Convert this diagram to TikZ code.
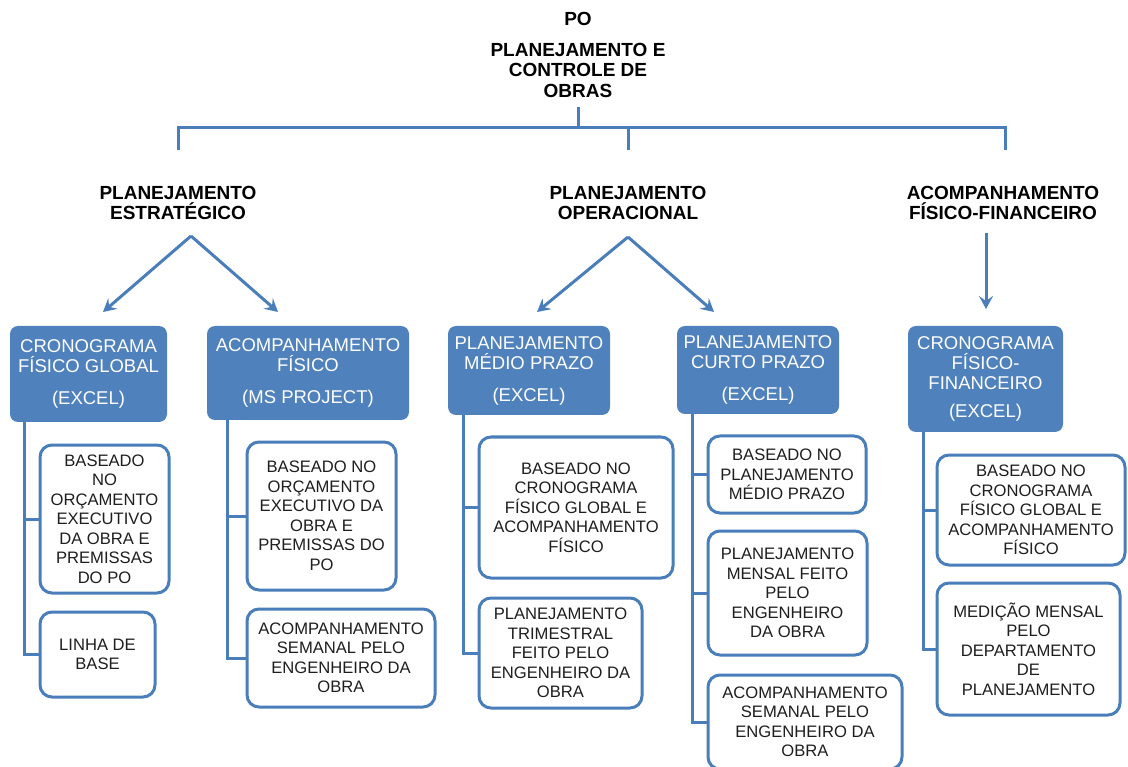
\documentclass[tikz,border=0pt]{standalone}
\usepackage{fontspec}
\setmainfont{Liberation Sans}
\usetikzlibrary{arrows.meta}
\definecolor{lineblue}{HTML}{4A7EBB}
\definecolor{boxblue}{HTML}{4F81BD}
\definecolor{txtdark}{HTML}{1E1E1E}
\tikzset{
  conn/.style={draw=lineblue, line width=3pt},
  arr/.style={conn, -{Stealth[length=13pt,width=14pt,inset=5pt]}},
  bluebox/.style={rectangle, rounded corners=8pt, fill=boxblue, draw=none, text=white,
    font=\fontsize{18.5}{20}\selectfont, align=center, inner sep=0pt},
  whitebox/.style={rectangle, rounded corners=12pt, fill=white, draw=lineblue, line width=3pt,
    text=txtdark, font=\fontsize{16.6}{19.5}\selectfont, align=center, inner sep=0pt},
  head/.style={font=\bfseries\fontsize{19}{20.5}\selectfont, align=center, inner sep=0pt}
}
\begin{document}
\begin{tikzpicture}[x=1pt,y=1pt]
\useasboundingbox (0,0) rectangle (1128,-767);
\fill[white] (0,0) rectangle (1128,-767);

% headings
\node[head] (po) at (578,-19) {PO};
\node[head] (title) at (578,-70) {PLANEJAMENTO E\\CONTROLE DE\\OBRAS};
\node[head] (est) at (178,-203) {PLANEJAMENTO\\ESTRATÉGICO};
\node[head] (ope) at (628,-203) {PLANEJAMENTO\\OPERACIONAL};
\node[head] (aff) at (1003,-203) {ACOMPANHAMENTO\\FÍSICO-FINANCEIRO};

% bracket
\coordinate (tb) at (578,-107);
\coordinate (tj) at (578,-128);
\coordinate (b1) at (178,-150);
\coordinate (b2) at (628,-150);
\coordinate (b3) at (1005,-150);
\draw[conn] (tb) -- (tj);
\draw[conn] (b1) -- (b1 |- tj) -- (b3 |- tj) -- (b3);
\draw[conn] (b2) -- (b2 |- tj);

% blue boxes
\node[bluebox, minimum width=157pt, minimum height=96pt] (cfg) at (88.5,-374)
  {CRONOGRAMA\\FÍSICO GLOBAL\\[12pt](EXCEL)};
\node[bluebox, minimum width=202pt, minimum height=94pt] (af) at (308,-373)
  {ACOMPANHAMENTO\\FÍSICO\\[12pt](MS PROJECT)};
\node[bluebox, minimum width=162pt, minimum height=89pt] (pmp) at (529,-370.5)
  {PLANEJAMENTO\\MÉDIO PRAZO\\[12pt](EXCEL)};
\node[bluebox, minimum width=162pt, minimum height=88pt] (pcp) at (758,-370)
  {PLANEJAMENTO\\CURTO PRAZO\\[12pt](EXCEL)};
\node[bluebox, minimum width=155pt, minimum height=106pt] (cff) at (985.5,-379)
  {CRONOGRAMA\\FÍSICO-\\FINANCEIRO\\[8pt](EXCEL)};

% arrows
\coordinate (ap1) at (191,-236);
\coordinate (t11) at (103,-312);
\coordinate (t12) at (278,-312);
\coordinate (ap2) at (628,-237);
\coordinate (t21) at (537,-312);
\coordinate (t22) at (714,-312);
\coordinate (ap3) at (986,-233);
\coordinate (t31) at (986,-309);
\draw[arr] (ap1) -- (t11);
\draw[arr] (ap1) -- (t12);
\draw[arr] (ap2) -- (t21);
\draw[arr] (ap2) -- (t22);
\draw[arr] (ap3) -- (t31);

% white boxes column 1
\node[whitebox, minimum width=129pt, minimum height=148pt] (w11) at (104.5,-519)
  {BASEADO\\NO\\ORÇAMENTO\\EXECUTIVO\\DA OBRA E\\PREMISSAS\\DO PO};
\node[whitebox, minimum width=115pt, minimum height=85pt] (w12) at (97.5,-654.5)
  {LINHA DE\\BASE};
% column 2
\node[whitebox, minimum width=149pt, minimum height=148pt] (w21) at (321.5,-516)
  {BASEADO NO\\ORÇAMENTO\\EXECUTIVO DA\\OBRA E\\PREMISSAS DO\\PO};
\node[whitebox, minimum width=188pt, minimum height=98pt] (w22) at (341,-658)
  {ACOMPANHAMENTO\\SEMANAL PELO\\ENGENHEIRO DA\\OBRA};
% column 3
\node[whitebox, minimum width=194pt, minimum height=141pt] (w31) at (576,-507.5)
  {BASEADO NO\\CRONOGRAMA\\FÍSICO GLOBAL E\\ACOMPANHAMENTO\\FÍSICO};
\node[whitebox, minimum width=163pt, minimum height=110pt] (w32) at (560.5,-653)
  {PLANEJAMENTO\\TRIMESTRAL\\FEITO PELO\\ENGENHEIRO DA\\OBRA};
% column 4
\node[whitebox, minimum width=158pt, minimum height=77pt] (w41) at (787,-474.5)
  {BASEADO NO\\PLANEJAMENTO\\MÉDIO PRAZO};
\node[whitebox, minimum width=159pt, minimum height=124pt] (w42) at (787.5,-593)
  {PLANEJAMENTO\\MENSAL FEITO\\PELO\\ENGENHEIRO\\DA OBRA};
\node[whitebox, minimum width=194pt, minimum height=94pt] (w43) at (805,-722)
  {ACOMPANHAMENTO\\SEMANAL PELO\\ENGENHEIRO DA\\OBRA};
% column 5
\node[whitebox, minimum width=188pt, minimum height=110pt] (w51) at (1031,-510)
  {BASEADO NO\\CRONOGRAMA\\FÍSICO GLOBAL E\\ACOMPANHAMENTO\\FÍSICO};
\node[whitebox, minimum width=183pt, minimum height=132pt] (w52) at (1028.5,-649)
  {MEDIÇÃO MENSAL\\PELO\\DEPARTAMENTO\\DE\\PLANEJAMENTO};

% column connectors
\coordinate (c1) at (24,-422);
\coordinate (c2) at (227,-420);
\coordinate (c3) at (463,-415);
\coordinate (c4) at (692,-414);
\coordinate (c5) at (923,-432);
\draw[conn] (c1) |- (w11.west);
\draw[conn] (c1) |- (w12.west);
\draw[conn] (c2) |- (w21.west);
\draw[conn] (c2) |- (w22.west);
\draw[conn] (c3) |- (w31.west);
\draw[conn] (c3) |- (w32.west);
\draw[conn] (c4) |- (w41.west);
\draw[conn] (c4) |- (w42.west);
\draw[conn] (c4) |- (w43.west);
\draw[conn] (c5) |- (w51.west);
\draw[conn] (c5) |- (w52.west);
\end{tikzpicture}
\end{document}
